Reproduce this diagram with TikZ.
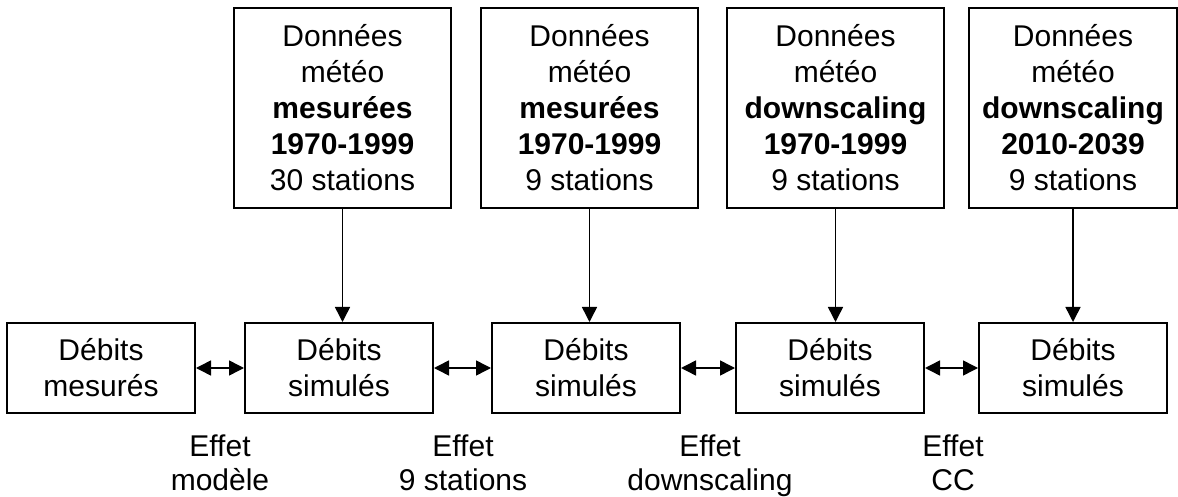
\documentclass[tikz,border=0pt]{standalone}
\usepackage{fontspec}
\setmainfont{Liberation Sans}
\usetikzlibrary{arrows.meta, positioning}

\begin{document}
\begin{tikzpicture}[
  x=0.5pt, y=-0.5pt,
  flow/.style={rectangle, draw=black, line width=1pt, inner sep=0pt,
               minimum width=94pt, minimum height=45pt, align=center,
               font=\fontsize{15}{18}\selectfont},
  meteo/.style={rectangle, draw=black, line width=1pt, inner sep=0pt,
                minimum width=108.5pt, minimum height=100pt, align=center,
                font=\fontsize{15}{18}\selectfont},
  effet/.style={align=center, anchor=north, inner sep=0pt,
                font=\fontsize{15}{17}\selectfont},
  arr/.style={-{Triangle[length=7.5pt, width=7.5pt]}, line width=0.75pt},
  darr/.style={{Triangle[length=7.5pt, width=7.5pt]}-{Triangle[length=7.5pt, width=7.5pt]}, line width=0.75pt}
]
\useasboundingbox (0,0) rectangle (1178,497);

% debits
\node[flow] (deb0) at (101,368) {Débits\\mesurés};
\node[flow] (deb1) at (339,368) {Débits\\simulés};
\node[flow] (deb2) at (586,368) {Débits\\simulés};
\node[flow] (deb3) at (830,368) {Débits\\simulés};
\node[flow] (deb4) at (1073,368) {Débits\\simulés};

% donnees meteo
\node[meteo] (met1) at (342.5,108) {Données\\météo\\\textbf{mesurées}\\\textbf{1970-1999}\\30 stations};
\node[meteo] (met2) at (589.5,108) {Données\\météo\\\textbf{mesurées}\\\textbf{1970-1999}\\9 stations};
\node[meteo] (met3) at (835.5,108) {Données\\météo\\\textbf{downscaling}\\\textbf{1970-1999}\\9 stations};
\node[meteo, minimum width=104pt] (met4) at (1073,108) {Données\\météo\\\textbf{downscaling}\\\textbf{2010-2039}\\9 stations};

% effets
\node[effet] (eff1) at (220,434) {Effet\\modèle};
\node[effet] (eff2) at (463,434) {Effet\\9 stations};
\node[effet] (eff3) at (710,434) {Effet\\downscaling};
\node[effet] (eff4) at (953,434) {Effet\\CC};

\draw[arr] (met1.south) -- (met1.south |- deb1.north);
\draw[arr] (met2.south) -- (met2.south |- deb2.north);
\draw[arr] (met3.south) -- (met3.south |- deb3.north);
\draw[arr] (met4.south) -- (met4.south |- deb4.north);

\draw[darr] (deb0) -- (deb1);
\draw[darr] (deb1) -- (deb2);
\draw[darr] (deb2) -- (deb3);
\draw[darr] (deb3) -- (deb4);
\end{tikzpicture}
\end{document}
